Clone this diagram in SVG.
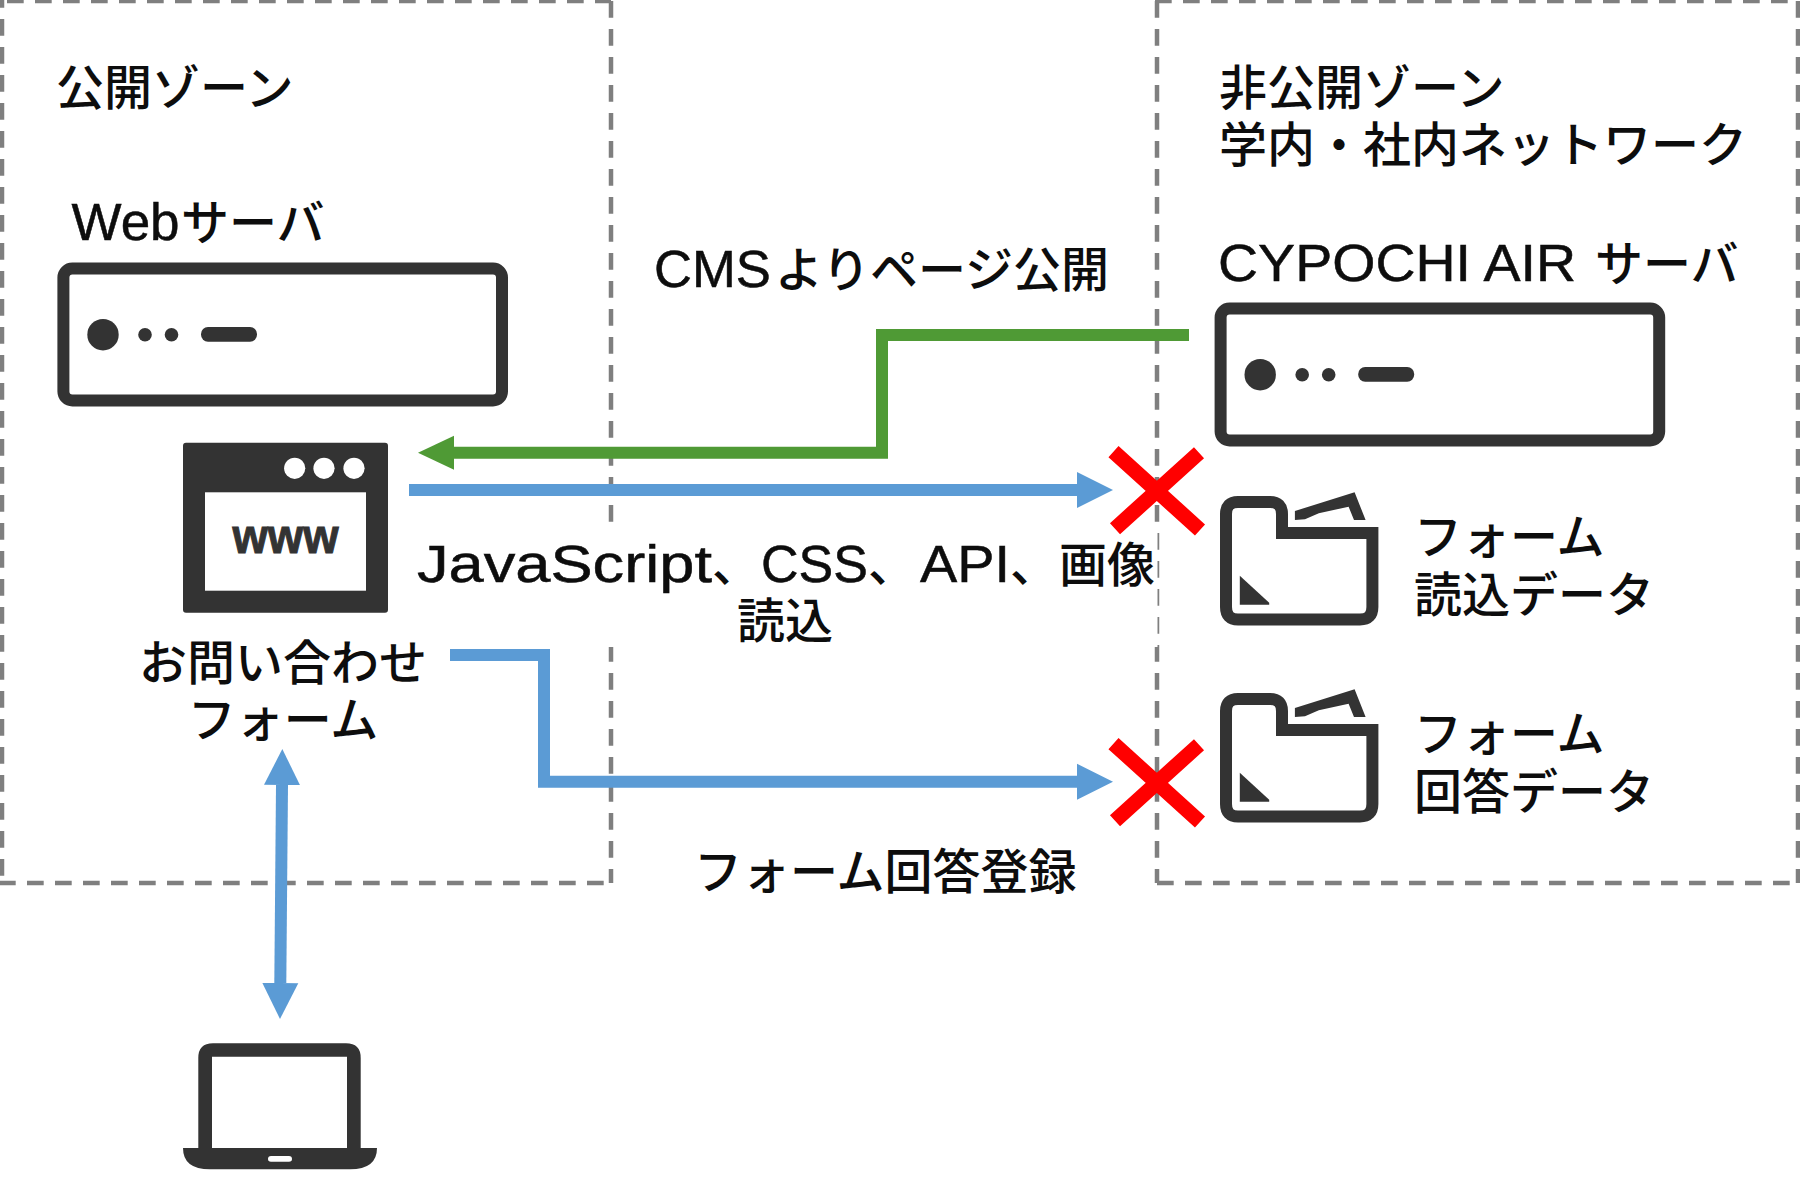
<svg xmlns="http://www.w3.org/2000/svg" xmlns:xlink="http://www.w3.org/1999/xlink" width="1800" height="1203" viewBox="0 0 1800 1203">
<style>
text{font-family:"Liberation Sans","Noto Sans CJK JP",sans-serif;font-size:48px;font-weight:500;fill:#0d0d0d}
.cjk{font-family:"Noto Sans CJK JP",sans-serif}
.lat{font-family:"Liberation Sans",sans-serif;font-size:51px;font-weight:400;stroke:#0d0d0d;stroke-width:.5}
.zone{fill:none;stroke:#7f7f7f;stroke-width:4.5;stroke-dasharray:16.7 11.3}
.dark{fill:#333}
.srv{fill:#fff;stroke:#333;stroke-width:12;stroke-linejoin:round}
.fld{fill:#fff;stroke:#333;stroke-width:12;stroke-linejoin:miter}
.blue{fill:none;stroke:#5b9bd5;stroke-width:12}
.green{fill:none;stroke:#4f9a35;stroke-width:12}
.x{fill:none;stroke:#f00;stroke-width:15}
</style>
<defs>
<marker id="hb" markerUnits="userSpaceOnUse" markerWidth="37" markerHeight="38" refX="0" refY="18.5" orient="auto-start-reverse"><path d="M0,0.5 L36,18.5 L0,36.5Z" fill="#5b9bd5"/></marker>
<marker id="hg" markerUnits="userSpaceOnUse" markerWidth="37" markerHeight="38" refX="0" refY="18.5" orient="auto"><path d="M0,1.5 L36,18.5 L0,35.5Z" fill="#4f9a35"/></marker>
<g id="server-icon">
<rect class="srv" x="63.4" y="268.5" width="438.6" height="132" rx="9"/>
<circle class="dark" cx="103" cy="334.7" r="15.7"/>
<circle class="dark" cx="145" cy="334.7" r="6.8"/>
<circle class="dark" cx="171.5" cy="334.7" r="6.8"/>
<rect class="dark" x="201" y="327" width="56" height="14.7" rx="7"/>
</g>
<g id="folder-icon">
<path class="fld" d="M1226,607 V514 Q1226,502 1238,502 H1270 Q1282,502 1282,514 V533 H1372.4 V607 Q1372.4,619.5 1360,619.5 H1238 Q1226,619.5 1226,607Z"/>
<path class="dark" d="M1294.9,511 L1354.6,492.3 L1365.6,520 H1354 L1348.6,506.7 L1318.8,513.3 L1305,519.3 L1294.9,520Z"/>
<path class="dark" d="M1239.8,575.7 L1269.2,602.7 V604.7 H1239.8Z"/>
</g>
</defs>
<rect width="1800" height="1203" fill="#fff"/>
<g id="zone-public">
<path class="zone" d="M-21,1 H611 M2,-9 V883 M611,1 V883 M-1,883 H611"/>
<text x="56" y="104.5">公開ゾーン</text>
</g>
<g id="zone-private">
<path class="zone" d="M1155,1 H1798 M1157,1 V883 M1798,1 V883 M1157,883 H1798"/>
<text x="1219" y="104.5">非公開ゾーン</text>
<text x="1219" y="162">学内・社内ネットワーク</text>
</g>
<g id="label-js">
<rect x="411" y="530" width="746.5" height="117" fill="#fff"/>
<text y="582"><tspan class="lat" x="417" textLength="295" lengthAdjust="spacingAndGlyphs">JavaScript</tspan><tspan class="cjk" x="712">、</tspan><tspan class="lat" x="761" textLength="107" lengthAdjust="spacingAndGlyphs">CSS</tspan><tspan class="cjk" x="868">、</tspan><tspan class="lat" x="920" textLength="90" lengthAdjust="spacingAndGlyphs">API</tspan><tspan class="cjk" x="1010">、</tspan><tspan class="cjk" x="1059">画像</tspan></text>
<text x="737" y="638">読込</text>
</g>
<g id="connectors">
<path class="green" d="M1189,335 H882 V452.7 H454" marker-end="url(#hg)"/>
<path class="blue" d="M409,490 H1077" marker-end="url(#hb)"/>
<path class="blue" d="M450,655 H544 V781.7 H1077" marker-end="url(#hb)"/>
<path class="blue" d="M282,785 L280.3,983" marker-start="url(#hb)" marker-end="url(#hb)"/>
<path class="x" d="M1113.5,451.6 L1200,530 M1199,452.7 L1115,528.7"/>
<path class="x" d="M1113.5,743.6 L1200,822 M1199,744.7 L1115,820.7"/>
</g>
<g id="web-server">
<text x="71.6" y="240"><tspan class="lat" textLength="108" lengthAdjust="spacingAndGlyphs">Web</tspan><tspan class="cjk" x="181">サーバ</tspan></text>
<use xlink:href="#server-icon" href="#server-icon"/>
</g>
<g id="browser-form">
<rect class="dark" x="183" y="442.7" width="205" height="170" rx="3"/>
<rect x="205" y="492.3" width="161" height="98.4" fill="#fff"/>
<circle cx="294.7" cy="468.3" r="10.6" fill="#fff"/>
<circle cx="324" cy="468.3" r="10.6" fill="#fff"/>
<circle cx="354" cy="468.3" r="10.6" fill="#fff"/>
<text x="232.5" y="553" textLength="106" lengthAdjust="spacingAndGlyphs" style="font-family:'Liberation Sans',sans-serif;font-weight:bold;font-size:48px;fill:#333;stroke:#333;stroke-width:1">www</text>
<text x="283" y="680" text-anchor="middle">お問い合わせ</text>
<text x="283" y="737" text-anchor="middle">フォーム</text>
</g>
<g id="cypochi-server">
<text x="1218" y="280.7"><tspan class="lat" textLength="358" lengthAdjust="spacingAndGlyphs">CYPOCHI AIR</tspan> <tspan class="cjk" x="1595">サーバ</tspan></text>
<use xlink:href="#server-icon" href="#server-icon" transform="translate(1157.2,40)"/>
</g>
<g id="form-read-data">
<use xlink:href="#folder-icon" href="#folder-icon"/>
<text x="1414" y="554">フォーム</text>
<text x="1414" y="611.5">読込データ</text>
</g>
<g id="form-answer-data">
<use xlink:href="#folder-icon" href="#folder-icon" transform="translate(0,197)"/>
<text x="1414" y="751">フォーム</text>
<text x="1414" y="808.5">回答データ</text>
</g>
<g id="label-cms"><text y="286.7"><tspan class="lat" x="654" textLength="117" lengthAdjust="spacingAndGlyphs">CMS</tspan><tspan class="cjk" x="775">よりページ公開</tspan></text></g>
<g id="label-answer"><text x="694" y="889">フォーム回答登録</text></g>
<g id="laptop">
<path class="dark" fill-rule="evenodd" d="M198.3,1148 V1058 Q198.3,1043.3 213,1043.3 H346 Q360.7,1043.3 360.7,1058 V1148 H377 Q377,1169.3 350,1169.3 H210 Q183,1169.3 183,1148Z M212,1056.7 V1148 H347 V1056.7Z M271,1156 Q268,1156 268,1159 Q268,1161.7 271,1161.7 H289 Q292,1161.7 292,1159 Q292,1156 289,1156Z"/>
</g>
</svg>
